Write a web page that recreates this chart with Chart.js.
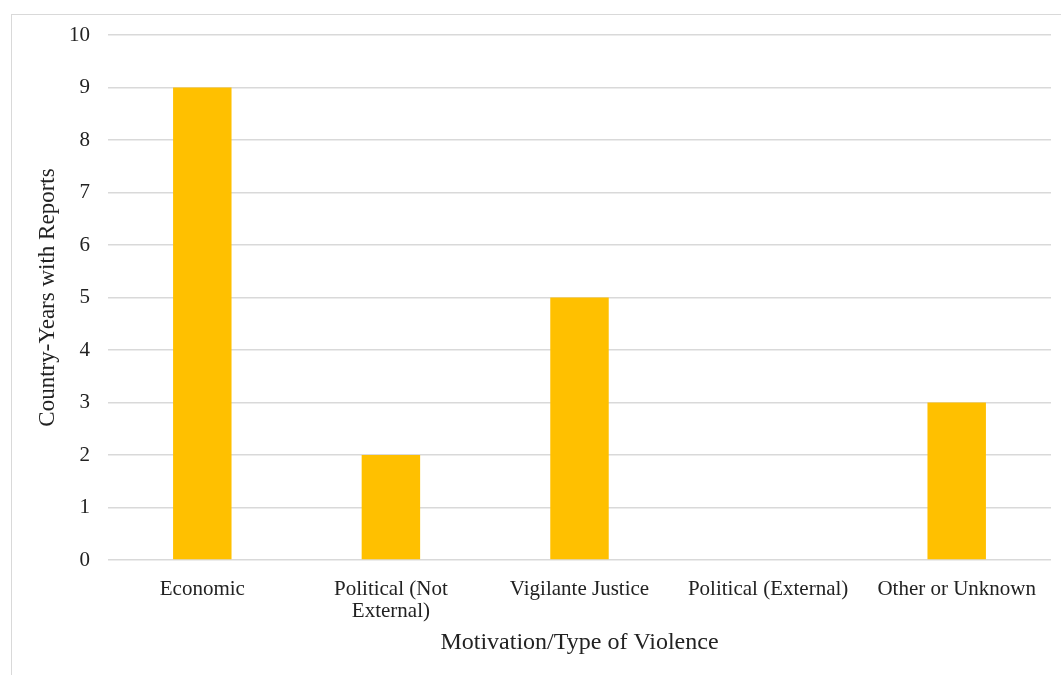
<!DOCTYPE html>
<html>
<head>
<meta charset="utf-8">
<script src="https://cdn.jsdelivr.net/npm/chart.js@4/dist/chart.umd.min.js"></script>
<style>
    body { margin: 0; background: #fff; }
    #frame { position: absolute; left: 11px; top: 14px; width: 1060px; height: 680px; border: 1px solid #d9d9d9; }
    #wrap { position: absolute; left: 0; top: 0; width: 1061px; height: 675px; }
</style>
</head>
<body>
<div id="frame"></div>
<div id="wrap"><canvas id="mychart" width="1061" height="675"></canvas></div>
<script>
var categories = ['Economic', ['Political (Not', 'External)'], 'Vigilante Justice', 'Political (External)', 'Other or Unknown'];
var reports = [9, 2, 5, 0, 3];
var yTicks = [0, 1, 2, 3, 4, 5, 6, 7, 8, 9, 10];

var serif = "'Liberation Serif', 'Times New Roman', serif";
var textColor = '#222222';

const ctr = document.getElementById('mychart');

new Chart(ctr, {
    type: 'bar',
    data: {
        labels: categories,
        datasets: [{
            label: 'Country-Years with Reports',
            data: reports,
            backgroundColor: '#ffc000',
            borderWidth: 0,
            barPercentage: 0.31,
            categoryPercentage: 1
        }]
    },
    options: {
        responsive: false,
        animation: false,
        layout: {
            padding: { left: 0, top: 35, right: 10, bottom: 0 }
        },
        plugins: {
            legend: { display: false },
            tooltip: { enabled: false }
        },
        scales: {
            x: {
                grid: { display: false },
                border: { display: false },
                ticks: {
                    color: textColor,
                    font: { family: serif, size: 21, lineHeight: 1.05 },
                    padding: 10,
                    maxRotation: 0,
                    autoSkip: false
                },
                title: {
                    display: true,
                    text: 'Motivation/Type of Violence',
                    color: textColor,
                    font: { family: serif, size: 24 },
                    padding: { top: 18, bottom: 18 }
                },
                afterFit: function (scale) {
                    scale.height = 675 - 560;
                }
            },
            y: {
                min: 0,
                max: 10,
                afterBuildTicks: function (scale) {
                    scale.ticks = yTicks.map(function (v) { return { value: v }; });
                },
                grid: { color: '#d9d9d9', lineWidth: 1.5, drawTicks: false },
                border: { display: false },
                ticks: {
                    color: textColor,
                    font: { family: serif, size: 21 },
                    padding: 18
                },
                title: {
                    display: true,
                    text: 'Country-Years with Reports',
                    color: textColor,
                    font: { family: serif, size: 23 },
                    padding: { top: 34, bottom: 34 }
                },
                afterFit: function (scale) {
                    scale.width = 108;
                }
            }
        }
    }
});
</script>
</body>
</html>
